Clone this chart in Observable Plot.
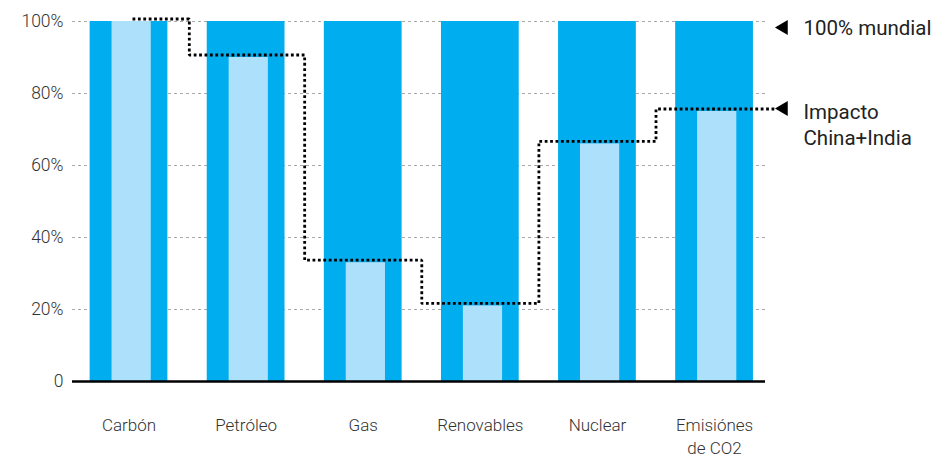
<!DOCTYPE html>
<html>
<head>
<meta charset="utf-8">
<script src="https://cdn.jsdelivr.net/npm/d3@7"></script>
<script src="https://cdn.jsdelivr.net/npm/@observablehq/plot@0.6"></script>
<style>
  html, body { margin: 0; padding: 0; background: #fff; }
  #chart svg { display: block; }
</style>
</head>
<body>
<div id="chart"></div>
<script>
const categories = ["Carbón", "Petróleo", "Gas", "Renovables", "Nuclear", "Emisiónes\nde CO2"];
const world = [100, 100, 100, 100, 100, 100];
const chinaIndia = [100, 90, 33, 21, 66, 75];
const yTicks = [0, 20, 40, 60, 80, 100];
const labelWorld = "100% mundial";
const labelImpact = "Impacto\nChina+India";

const data = categories.map((c, i) => ({i, c, world: world[i], ci: chinaIndia[i]}));
const lineData = data.map(d => ({x: d.i, y: d.ci}));
lineData[0].x = 0.03;
lineData.push({x: categories.length - 1 + 0.52, y: chinaIndia[chinaIndia.length - 1]});
const last = chinaIndia[chinaIndia.length - 1];

const font = "Roboto, 'Noto Sans', sans-serif";

const chart = Plot.plot({
  width: 942,
  height: 455,
  marginLeft: 72,
  marginRight: 177,
  marginTop: 21,
  marginBottom: 74,
  style: {fontFamily: font, background: "#fff", overflow: "visible", fontWeight: 300},
  x: {type: "linear", domain: [-0.4825, 5.435], axis: null},
  y: {domain: [0, 100], axis: null},
  marks: [
    Plot.gridY(yTicks.filter(d => d > 0), {stroke: "#aaa", strokeOpacity: 1, strokeWidth: 1, strokeDasharray: "3,3"}),
    Plot.rectY(data, {x1: d => d.i - 0.332, x2: d => d.i + 0.332, y: "world", fill: "#00adee"}),
    Plot.rectY(data, {x1: d => d.i - 0.145, x2: d => d.i + 0.19, y: "ci", fill: "#ade0fa"}),
    Plot.ruleY([0], {stroke: "#000", strokeWidth: 2.5}),
    Plot.line(lineData, {x: "x", y: "y", curve: "step", stroke: "#000", strokeWidth: 2.8, strokeDasharray: "2.8,2.6", strokeLinecap: "butt", strokeLinejoin: "miter", dy: -2.5}),
    Plot.axisY(yTicks, {tickSize: 0, tickPadding: 9, fontSize: 17.5, fill: "#333", label: null,
      tickFormat: d => d === 0 ? "0" : d + "%"}),
    Plot.axisX(data.map(d => d.i), {tickSize: 0, tickPadding: 33, fontSize: 17, fill: "#333", label: null,
      lineHeight: 1.35, tickFormat: i => categories[i]}),
    Plot.dot([100], {y: d => d, frameAnchor: "right", dx: 18, dy: 6, symbol: "triangle", rotate: -90, r: 5.5, fill: "#000", stroke: null}),
    Plot.dot([last], {y: d => d, frameAnchor: "right", dx: 18, dy: -3, symbol: "triangle", rotate: -90, r: 5.5, fill: "#000", stroke: null}),
    Plot.text([labelWorld], {y: () => 100, text: d => d, frameAnchor: "right", dx: 38, dy: 7, textAnchor: "start", fontSize: 20.5, fontWeight: 400, fill: "#222"}),
    Plot.text([labelImpact], {y: () => last, text: d => d, frameAnchor: "right", dx: 38, dy: 12, textAnchor: "start", lineAnchor: "middle", lineHeight: 1.3, fontSize: 20.5, fontWeight: 400, fill: "#222"})
  ]
});
document.getElementById("chart").appendChild(chart);
</script>
</body>
</html>
